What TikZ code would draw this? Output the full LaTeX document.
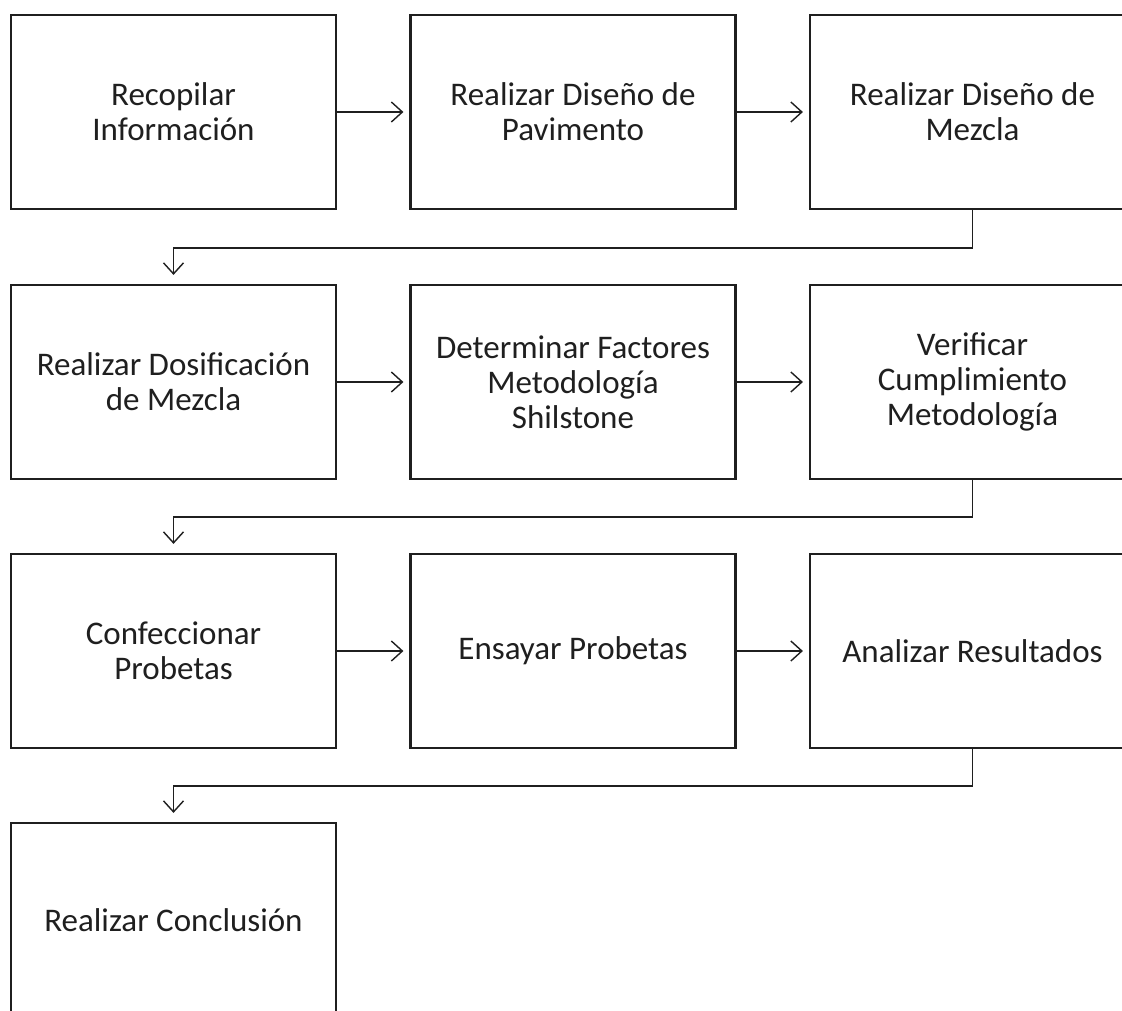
\documentclass[tikz,border=0pt]{standalone}
\usepackage{fontspec}
\setmainfont{Carlito}
\usetikzlibrary{arrows.meta}
\definecolor{ink}{gray}{0.12}
\tikzset{
  box/.style={draw=ink, line width=2.2pt, minimum width=325pt, minimum height=194pt,
    inner sep=0pt, align=center, text=ink,
    font=\fontsize{33}{35}\selectfont},
  conn/.style={draw=ink, line width=1.4pt,
    -{Straight Barb[length=11pt,width=20pt,line width=1.4pt]}, shorten >=6pt},
  drop/.style={conn, shorten >=9pt}
}
\begin{document}
\begin{tikzpicture}[x=1pt, y=-1pt]
  \useasboundingbox (0,0) rectangle (1122,1011);
  \fill[white] (0,0) rectangle (1122,1011);
  \clip (0,0) rectangle (1122,1011);

  % row 1
  \node[box] (b1) at (173.5,112) {Recopilar\\Información};
  \node[box] (b2) at (573,112) {Realizar Diseño de\\Pavimento};
  \node[box] (b3) at (972.5,112) {Realizar Diseño de\\Mezcla};
  % row 2
  \node[box] (b4) at (173.5,382) {Realizar Dosificación\\de Mezcla};
  \node[box] (b5) at (573,382) {Determinar Factores\\Metodología\\Shilstone};
  \node[box] (b6) at (972.5,382) {Verificar\\Cumplimiento\\Metodología};
  % row 3
  \node[box] (b7) at (173.5,651) {Confeccionar\\Probetas};
  \node[box] (b8) at (573,651) {Ensayar Probetas};
  \node[box] (b9) at (972.5,651) {Analizar Resultados};
  % row 4
  \node[box] (b10) at (173.5,920) {Realizar Conclusión};

  % flow within rows
  \draw[conn] (b1.east) -- (b2.west);
  \draw[conn] (b2.east) -- (b3.west);
  \draw[conn] (b4.east) -- (b5.west);
  \draw[conn] (b5.east) -- (b6.west);
  \draw[conn] (b7.east) -- (b8.west);
  \draw[conn] (b8.east) -- (b9.west);

  % returns to the next row
  \draw[drop] (b3.south) -- ++(0,38) -| (b4.north);
  \draw[drop] (b6.south) -- ++(0,37) -| (b7.north);
  \draw[drop] (b9.south) -- ++(0,37) -| (b10.north);
\end{tikzpicture}
\end{document}
